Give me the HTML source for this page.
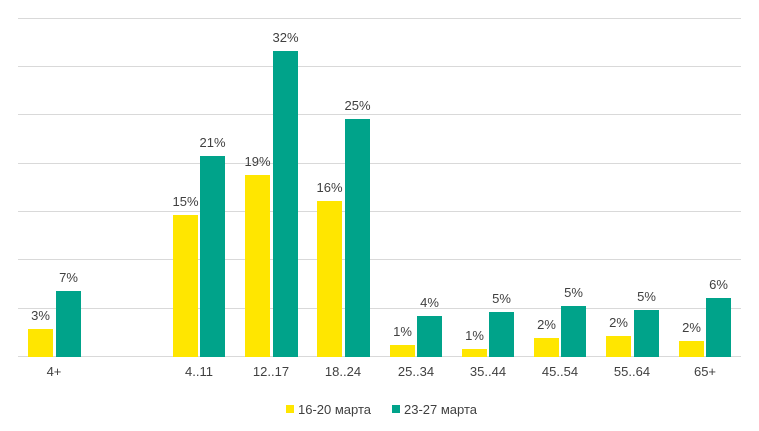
<!DOCTYPE html>
<html><head><meta charset="utf-8"><style>
body{margin:0;background:#fff;}
svg text{font-family:"Liberation Sans","Noto Sans CJK SC",sans-serif;fill:#404040;}
</style></head><body>
<svg width="759" height="426" xmlns="http://www.w3.org/2000/svg">
<g stroke="#d9d9d9" stroke-width="1">
<line x1="18" x2="741" y1="18.5" y2="18.5"/>
<line x1="18" x2="741" y1="66.5" y2="66.5"/>
<line x1="18" x2="741" y1="114.5" y2="114.5"/>
<line x1="18" x2="741" y1="163.5" y2="163.5"/>
<line x1="18" x2="741" y1="211.5" y2="211.5"/>
<line x1="18" x2="741" y1="259.5" y2="259.5"/>
<line x1="18" x2="741" y1="308.5" y2="308.5"/>
<line x1="18" x2="741" y1="356.5" y2="356.5"/>
</g>
<g fill="#FFE600">
<rect x="28" y="329" width="25" height="28"/>
<rect x="173" y="215" width="25" height="142"/>
<rect x="245" y="175" width="25" height="182"/>
<rect x="317" y="201" width="25" height="156"/>
<rect x="390" y="345" width="25" height="12"/>
<rect x="462" y="349" width="25" height="8"/>
<rect x="534" y="338" width="25" height="19"/>
<rect x="606" y="336" width="25" height="21"/>
<rect x="679" y="341" width="25" height="16"/>
</g>
<g fill="#00A38A">
<rect x="56" y="291" width="25" height="66"/>
<rect x="200" y="156" width="25" height="201"/>
<rect x="273" y="51" width="25" height="306"/>
<rect x="345" y="119" width="25" height="238"/>
<rect x="417" y="316" width="25" height="41"/>
<rect x="489" y="312" width="25" height="45"/>
<rect x="561" y="306" width="25" height="51"/>
<rect x="634" y="310" width="25" height="47"/>
<rect x="706" y="298" width="25" height="59"/>
</g>
<g font-size="13" text-anchor="middle">
<text x="40.5" y="320">3%</text><text x="68.5" y="282">7%</text>
<text x="185.5" y="206">15%</text><text x="212.5" y="147">21%</text>
<text x="257.5" y="166">19%</text><text x="285.5" y="42">32%</text>
<text x="329.5" y="192">16%</text><text x="357.5" y="110">25%</text>
<text x="402.5" y="336">1%</text><text x="429.5" y="307">4%</text>
<text x="474.5" y="340">1%</text><text x="501.5" y="303">5%</text>
<text x="546.5" y="329">2%</text><text x="573.5" y="297">5%</text>
<text x="618.5" y="327">2%</text><text x="646.5" y="301">5%</text>
<text x="691.5" y="332">2%</text><text x="718.5" y="289">6%</text>
<text x="54" y="376">4+</text>
<text x="199" y="376">4..11</text>
<text x="271" y="376">12..17</text>
<text x="343" y="376">18..24</text>
<text x="416" y="376">25..34</text>
<text x="488" y="376">35..44</text>
<text x="560" y="376">45..54</text>
<text x="632" y="376">55..64</text>
<text x="705" y="376">65+</text>
</g>
<rect x="286" y="405" width="8" height="8" fill="#FFE600"/>
<text x="298" y="414" font-size="13">16-20 марта</text>
<rect x="392" y="405" width="8" height="8" fill="#00A38A"/>
<text x="404" y="414" font-size="13">23-27 марта</text>
</svg>
</body></html>
